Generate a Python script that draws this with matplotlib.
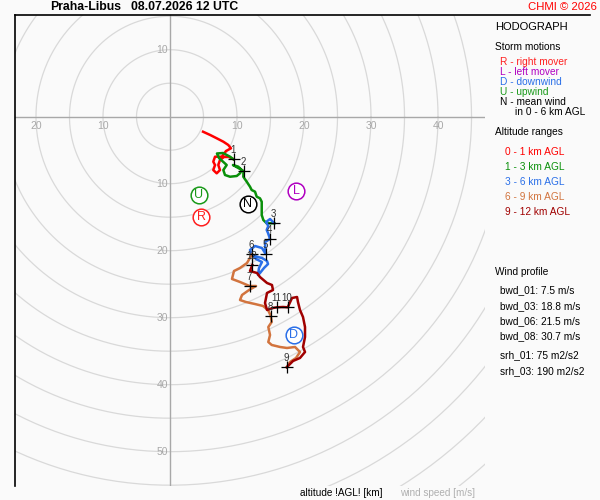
import numpy as np
import matplotlib
matplotlib.use("Agg")
import matplotlib.pyplot as plt
from matplotlib.lines import Line2D

plt.rcParams['font.family'] = ['Liberation Sans', 'DejaVu Sans']

# hodograph segments, u / v components in m/s
u_0_1 = [4.93, 6.0, 6.97, 7.96, 8.70, 9.10, 8.36, 7.72, 6.72, 6.46, 6.72, 6.46, 6.97, 7.46, 7.21, 7.46, 8.06, 8.81, 9.48]
v_0_1 = [-2.24, -2.73, -3.22, -3.73, -4.22, -4.72, -5.12, -5.97, -5.97, -6.72, -7.21, -7.96, -8.45, -7.96, -7.21, -6.46, -6.01, -6.01, -6.36]

u_1_3 = [9.48, 8.96, 7.91, 7.01, 7.31, 8.46, 7.96, 8.21, 8.96, 9.96, 10.45, 10.70, 10.19, 9.40, 10.97,
         10.94, 11.45, 11.94, 12.19, 12.69, 12.94, 13.43, 13.69, 13.69, 13.69, 13.69, 13.93, 14.43, 15.57]
v_1_3 = [-6.36, -5.97, -5.42, -5.49, -6.16, -7.21, -7.96, -8.70, -8.96, -8.85, -8.45, -7.96, -7.46, -7.21, -8.10,
         -8.96, -9.70, -10.45, -10.94, -11.19, -11.94, -12.18, -12.69, -13.18, -13.93, -14.67, -15.42, -15.91, -15.91]

u_3_6 = [15.57, 14.93, 14.33, 14.67, 14.43, 14.63, 14.93, 14.18, 14.28, 13.73, 12.69, 11.94, 12.24, 13.13,
         13.73, 14.48, 14.63, 14.03, 13.43, 13.13, 13.28, 13.73, 12.84, 12.24]
v_3_6 = [-15.91, -15.27, -15.72, -16.31, -16.91, -17.37, -18.25, -18.70, -20.49, -19.60, -19.30, -19.90, -20.64, -20.94,
         -21.09, -21.54, -21.99, -22.58, -23.33, -23.63, -22.58, -21.69, -21.24, -20.55]

u_6_9 = [12.24, 11.49, 10.45, 9.55, 9.25, 10.45, 11.87, 12.84, 11.79, 10.75, 10.45, 11.34, 12.69, 13.88, 14.63,
         15.03, 15.18, 14.67, 14.93, 14.67, 15.18, 16.42, 17.46, 18.66, 19.40, 18.81, 17.91, 17.42]
v_6_9 = [-20.55, -21.84, -22.58, -23.03, -24.22, -24.67, -25.27, -25.27, -25.87, -26.61, -27.36, -27.66, -27.96, -28.25, -28.85,
         -29.70, -30.64, -31.39, -32.58, -33.63, -34.07, -34.37, -34.52, -34.37, -35.12, -36.01, -36.61, -37.40]

u_9_12 = [17.42, 18.36, 19.40, 20.15, 19.85, 20.15, 20.15, 19.85, 19.40, 19.10, 18.96, 18.21, 17.57, 16.87, 15.93,
          15.37, 14.48, 14.18, 14.48, 15.37, 15.22, 14.48, 13.43, 12.99, 11.94, 12.28]
v_9_12 = [-37.40, -36.46, -36.01, -35.12, -34.37, -32.88, -31.39, -29.90, -28.85, -27.66, -26.91, -27.06, -28.45, -28.40, -28.45,
          -28.55, -28.85, -27.81, -26.31, -25.87, -25.12, -24.82, -23.93, -23.33, -23.03, -22.13]

# altitude marks (km AGL)
alt_labels = ["1", "2", "3", "4", "5", "6", "7", "8", "9", "10", "11", "12"]
alt_u = [9.48, 10.97, 15.57, 14.93, 14.28, 12.24, 11.87, 15.03, 17.42, 17.57, 15.93, 12.28]
alt_v = [-6.36, -8.10, -15.91, -18.25, -20.49, -20.55, -25.27, -29.70, -37.40, -28.45, -28.45, -22.13]

# storm motions
storm_letters = ["U", "R", "N", "L", "D"]
storm_u = [4.33, 4.63, 11.64, 18.85, 18.5]
storm_v = [-11.7, -14.98, -13.03, -11.1, -32.6]
storm_colors = ["#1a9a1a", "#ff2020", "black", "#b000c0", "#2a6fe8"]

seg_colors = ["#ff0000", "#0a900a", "#2a6fe8", "#d2743e", "#a00000"]
segments = [(u_0_1, v_0_1), (u_1_3, v_1_3), (u_3_6, v_3_6), (u_6_9, v_6_9), (u_9_12, v_9_12)]

x_ticks = [-20, -10, 10, 20, 30, 40]
y_ticks = [10, -10, -20, -30, -40, -50]

bg = "#fafafa"
fig = plt.figure(figsize=(6, 5), dpi=100, facecolor=bg)
ax = fig.add_axes([15/600, 14/500, 470/600, 471/500])
ax.set_facecolor(bg)
ax.set_xlim(-23.13, 47.01)
ax.set_ylim(-55.12, 15.18)

th = np.linspace(0, 2*np.pi, 400)
for r in range(5, 80, 5):
    ax.plot(r*np.cos(th), r*np.sin(th), color="#d9d9d9", lw=0.9, zorder=1)
ax.axhline(0, color="#a8a8a8", lw=1, zorder=2)
ax.axvline(0, color="#a8a8a8", lw=1, zorder=2)

for t in x_ticks:
    ax.annotate(str(abs(t)), (t, 0), xytext=(0, -6.5), textcoords="offset points",
                ha="center", va="center", fontsize=7.5, color="#a8a8a8")
for t in y_ticks:
    ax.annotate(str(abs(t)), (0, t), xytext=(-1.5, 0), textcoords="offset points",
                ha="right", va="center", fontsize=7.5, color="#a8a8a8")

for (uu, vv), c in zip(segments, seg_colors):
    ax.plot(uu, vv, color=c, lw=1.8, zorder=3, solid_joinstyle="round")

ax.plot(alt_u, alt_v, ls="none", marker="+", ms=8.5, mew=0.9, color="black", zorder=5)
for lab, uu, vv in zip(alt_labels, alt_u, alt_v):
    ax.annotate(lab, (uu, vv), xytext=(-0.5, 6.5), textcoords="offset points",
                ha="center", va="center", fontsize=7, color="#333333", zorder=6)

for let, uu, vv, c in zip(storm_letters, storm_u, storm_v, storm_colors):
    ax.plot(uu, vv, marker="o", ms=12, mfc="white", mec=c, mew=1.1, zorder=6)
    ax.text(uu, vv, let, ha="center", va="center", fontsize=9, color=c, zorder=7)

for s in ["right", "bottom", "top"]:
    ax.spines[s].set_visible(False)
ax.spines["left"].set_color("black")
ax.spines["left"].set_linewidth(1.2)
ax.set_xticks([])
ax.set_yticks([])

# top border runs past the plot to the right edge
fig.add_artist(Line2D([15/600, 590/600], [1-15/500, 1-15/500], color="black", lw=1.2))


def ftext(x, y, s, **kw):
    fig.text(x/600, 1 - y/500, s, va="center", **kw)


ftext(50, 7.5, "Praha-Libus", fontsize=8.8, fontweight="bold")
ftext(131, 7.5, "08.07.2026 12 UTC", fontsize=8.8, fontweight="bold")
ftext(597, 7, "CHMI © 2026", fontsize=8.2, color="#ff0000", ha="right")

ftext(495, 26.5, "HODOGRAPH", fontsize=8)
ftext(495, 46.5, "Storm motions", fontsize=7.3)
legend_moves = [("R - right mover", "#ff2020"), ("L - left mover", "#b000c0"),
                ("D - downwind", "#2a6fe8"), ("U - upwind", "#1a9a1a"), ("N - mean wind", "black")]
for i, (s, c) in enumerate(legend_moves):
    ftext(500.5, 61.7 + 10*i, s, fontsize=7.3, color=c)
ftext(515, 111.7, "in 0 - 6 km AGL", fontsize=7.3)

ftext(495, 131.7, "Altitude ranges", fontsize=7.3)
alt_ranges = ["0 - 1 km AGL", "1 - 3 km AGL", "3 - 6 km AGL", "6 - 9 km AGL", "9 - 12 km AGL"]
for i, (s, c) in enumerate(zip(alt_ranges, seg_colors)):
    ftext(505, 151.7 + 15*i, s, fontsize=7.3, color=c)

ftext(495, 271.7, "Wind profile", fontsize=7.3)
profile = ["bwd_01: 7.5 m/s", "bwd_03: 18.8 m/s", "bwd_06: 21.5 m/s", "bwd_08: 30.7 m/s"]
for i, s in enumerate(profile):
    ftext(500, 290.5 + 15.3*i, s, fontsize=7.3)
ftext(500, 355.5, "srh_01: 75 m2/s2", fontsize=7.3)
ftext(500, 371, "srh_03: 190 m2/s2", fontsize=7.3)

ftext(300, 492.5, "altitude !AGL! [km]", fontsize=7.2)
ftext(400, 492.5, "wind speed [m/s]", fontsize=7.2, color="#b0b0b0")

fig.savefig("out.png", dpi=100, facecolor=bg)
